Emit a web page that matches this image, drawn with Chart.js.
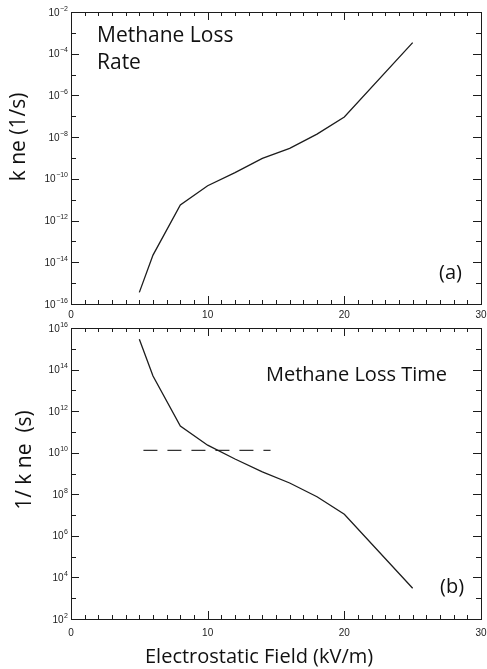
<!DOCTYPE html>
<html>
<head>
<meta charset="utf-8">
<script src="https://cdn.jsdelivr.net/npm/chart.js@4/dist/chart.umd.min.js"></script>
<style>
    body { margin: 0; background: #fff; width: 487px; height: 669px; position: relative; overflow: hidden; }
    canvas { position: absolute; left: 0; }
    #rateChart { top: 0; }
    #timeChart { top: 320px; }
</style>
</head>
<body>
<canvas id="rateChart" width="487" height="320"></canvas>
<canvas id="timeChart" width="487" height="349"></canvas>
<script>
// Electrostatic field (kV/m) and methane loss values
const fieldKV  = [5, 6, 8, 10, 12, 14, 16, 18, 20, 25];
const lossRate = [3.6e-16, 2.2e-14, 5.6e-12, 4.7e-11, 2.0e-10, 9.5e-10, 2.9e-9, 1.4e-8, 9.3e-8, 3.4e-4];
const lossTime = [2.9e15, 4.9e13, 1.9e11, 2.3e10, 5.0e9, 1.2e9, 3.5e8, 7.6e7, 1.1e7, 3.0e3];

// dashed reference level in panel (b)
const limitField = [5.3, 14.6];
const limitTime  = [1.3e10, 1.3e10];

// axis ticks
const xTickValues = [0, 10, 20, 30];
const rateExponents = [-16, -14, -12, -10, -8, -6, -4, -2];
const timeExponents = [2, 4, 6, 8, 10, 12, 14, 16];

const LABEL_FONT = "'Open Sans', sans-serif";
const TICK_FONT = "'Liberation Sans', Arial, sans-serif";
const INK = '#1c1c1c';

/**
 * Box frame with inward ticks on all four sides, plus 10^n labels on y
 */
const frameTicks = {
    id: 'frameTicks',
    afterDraw(chart) {
        const { ctx, chartArea: a, scales: { x, y } } = chart;
        ctx.save();
        ctx.strokeStyle = INK;
        ctx.lineWidth = 1;
        ctx.strokeRect(a.left + 0.5, a.top + 0.5, a.width, a.height);
        ctx.beginPath();
        for (let v = x.min; v <= x.max; v++) {
            const px = Math.round(x.getPixelForValue(v)) + 0.5;
            const len = v % 10 === 0 ? 8 : 4;
            ctx.moveTo(px, a.bottom); ctx.lineTo(px, a.bottom - len);
            ctx.moveTo(px, a.top); ctx.lineTo(px, a.top + len);
        }
        const e0 = Math.round(Math.log10(y.min));
        const e1 = Math.round(Math.log10(y.max));
        for (let e = e0; e <= e1; e++) {
            const py = Math.round(y.getPixelForValue(Math.pow(10, e))) + 0.5;
            const len = e % 2 === 0 ? 8 : 5;
            ctx.moveTo(a.left, py); ctx.lineTo(a.left + len, py);
            ctx.moveTo(a.right, py); ctx.lineTo(a.right - len, py);
        }
        ctx.stroke();

        // y tick labels: "10" with a raised exponent
        ctx.fillStyle = INK;
        ctx.textBaseline = 'alphabetic';
        y.ticks.forEach(t => {
            const py = y.getPixelForValue(t.value);
            const exp = String(Math.round(Math.log10(t.value))).replace('-', '\u2212');
            ctx.font = `7px ${TICK_FONT}`;
            const ew = ctx.measureText(exp).width;
            const right = a.left - 3;
            ctx.textAlign = 'left';
            ctx.fillText(exp, right - ew, py - 1.5);
            ctx.font = `10px ${TICK_FONT}`;
            ctx.textAlign = 'right';
            ctx.fillText('10', right - ew - 0.5, py + 3.5);
        });
        ctx.restore();
    }
};

/**
 * Free text drawn on the canvas (panel titles, axis titles)
 */
function textPlugin(items) {
    return {
        id: 'panelText',
        afterDraw(chart) {
            const ctx = chart.ctx;
            ctx.save();
            ctx.fillStyle = '#111';
            items.forEach(t => {
                ctx.save();
                ctx.font = `${t.size}px ${LABEL_FONT}`;
                ctx.translate(t.x, t.y);
                if (t.rotate) {
                    ctx.rotate(-Math.PI / 2);
                    ctx.textAlign = 'center';
                    ctx.textBaseline = 'middle';
                } else {
                    ctx.textAlign = 'left';
                    ctx.textBaseline = 'alphabetic';
                }
                ctx.fillText(t.text, 0, 0);
                ctx.restore();
            });
            ctx.restore();
        }
    };
}

function buildOptions(yMin, yMax, exponents, xLabelPad, xHeight, padTop) {
    return {
        responsive: false,
        animation: false,
        layout: { padding: { left: 0, right: 6, top: padTop, bottom: 0 } },
        plugins: { legend: { display: false }, tooltip: { enabled: false } },
        scales: {
            x: {
                type: 'linear',
                min: 0,
                max: 30,
                grid: { display: false, drawTicks: false },
                border: { display: false },
                afterBuildTicks: (scale) => { scale.ticks = xTickValues.map(v => ({ value: v })); },
                afterFit: (scale) => { scale.height = xHeight; scale.paddingLeft = 0; scale.paddingRight = 0; },
                ticks: {
                    color: INK,
                    padding: xLabelPad,
                    maxRotation: 0,
                    font: { family: TICK_FONT, size: 10 },
                    callback: (value) => String(value)
                }
            },
            y: {
                type: 'logarithmic',
                min: yMin,
                max: yMax,
                grid: { display: false, drawTicks: false },
                border: { display: false },
                afterBuildTicks: (scale) => { scale.ticks = exponents.map(e => ({ value: Math.pow(10, e) })); },
                afterFit: (scale) => { scale.width = 71; scale.paddingTop = 0; scale.paddingBottom = 0; },
                ticks: { display: false }
            }
        }
    };
}

const rateChart = new Chart(document.getElementById('rateChart'), {
    type: 'line',
    data: {
        datasets: [{
            label: 'k ne',
            data: fieldKV.map((f, i) => ({ x: f, y: lossRate[i] })),
            borderColor: INK,
            borderWidth: 1.3,
            pointRadius: 0,
            tension: 0
        }]
    },
    options: buildOptions(1e-16, 1e-2, rateExponents, 5, 16, 12),
    plugins: [frameTicks, textPlugin([
        { text: 'Methane Loss', x: 97, y: 42, size: 21 },
        { text: 'Rate', x: 97, y: 69, size: 21 },
        { text: '(a)', x: 439, y: 279, size: 20 },
        { text: 'k ne (1/s)', x: 19, y: 137, size: 21, rotate: true }
    ])]
});

const timeChart = new Chart(document.getElementById('timeChart'), {
    type: 'line',
    data: {
        datasets: [{
            label: '1/k ne',
            data: fieldKV.map((f, i) => ({ x: f, y: lossTime[i] })),
            borderColor: INK,
            borderWidth: 1.3,
            pointRadius: 0,
            tension: 0
        }, {
            label: 'limit',
            data: limitField.map((f, i) => ({ x: f, y: limitTime[i] })),
            borderColor: '#333',
            borderWidth: 1.3,
            borderDash: [14, 10],
            pointRadius: 0,
            tension: 0
        }]
    },
    options: buildOptions(1e2, 1e16, timeExponents, 8, 50, 8),
    plugins: [frameTicks, textPlugin([
        { text: 'Methane Loss Time', x: 266, y: 61, size: 20 },
        { text: '(b)', x: 440, y: 273, size: 20 },
        { text: '1/ k ne  (s)', x: 25, y: 140, size: 21, rotate: true },
        { text: 'Electrostatic Field (kV/m)', x: 145, y: 343, size: 20 }
    ])]
});
</script>
</body>
</html>
